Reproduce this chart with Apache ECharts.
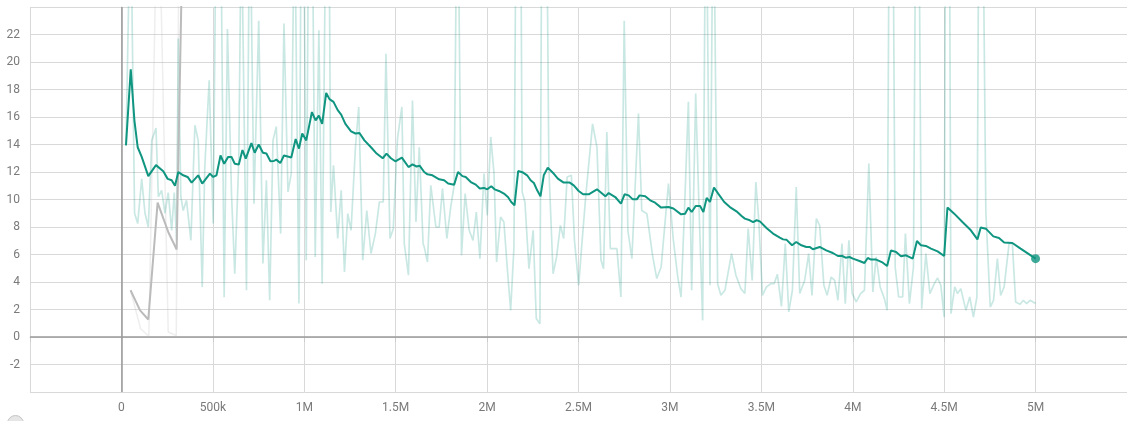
<!DOCTYPE html>
<html>
<head>
<meta charset="utf-8">
<script src="https://cdn.jsdelivr.net/npm/echarts@6/dist/echarts.min.js"></script>
<style>
html,body{margin:0;padding:0;background:#fff;}
#chart{width:1127px;height:421px;}
</style>
</head>
<body>
<div id="chart"></div>
<script>
// [step, value]
const tealSmooth = [
[25000,13.94],[51000,19.47],[71000,15.76],[89000,13.8],[111000,13.1],[147000,11.7],[189000,12.5],[229000,12.05],[253000,11.5],[275000,11.4],[293000,11.0],[311000,12.0],[338000,11.76],[362000,11.64],[384000,11.23],[420000,11.76],[442000,11.16],[484000,11.88],[502000,11.64],[520000,11.76],[542000,13.2],[562000,12.6],[584000,13.1],[602000,13.1],[620000,12.6],[642000,12.55],[662000,13.6],[680000,12.97],[711000,14.1],[729000,13.4],[751000,14.0],[774000,13.4],[793000,13.34],[815000,12.78],[834000,12.8],
[847000,12.9],[869000,12.65],[889000,13.2],[929000,13.05],[953000,14.4],[971000,13.7],[989000,14.8],[1011000,14.3],[1042000,16.36],[1062000,15.76],[1080000,16.1],[1098000,15.5],[1120000,17.75],[1138000,17.3],[1160000,17.1],[1183000,16.5],[1202000,16.17],[1225000,15.5],[1256000,14.96],[1280000,14.8],[1302000,14.84],[1329000,14.3],[1365000,13.8],[1396000,13.34],[1429000,13.0],[1450000,13.34],[1474000,13.0],[1498000,12.78],[1534000,13.05],[1570000,12.36],[1592000,12.56],[1614000,12.4],[1632000,12.45],
[1656000,12.0],[1674000,11.83],[1701000,11.76],[1738000,11.47],[1765000,11.4],[1787000,11.16],[1820000,11.08],[1841000,12.0],[1865000,11.7],[1883000,11.64],[1911000,11.27],[1938000,11.08],[1960000,10.8],[1983000,10.84],[2001000,10.74],[2023000,10.96],[2041000,10.74],[2065000,10.62],[2092000,10.43],[2114000,10.18],[2132000,9.82],[2150000,9.58],[2170000,12.07],[2197000,11.96],[2219000,11.76],[2238000,11.4],[2256000,11.2],[2274000,10.67],[2292000,10.23],[2310000,11.76],[2332000,12.32],[2361000,11.93],[2387000,11.52],[2419000,11.23],[2452000,11.23],[2474000,11.03],[2501000,10.62],[2525000,10.38],
[2556000,10.38],[2601000,10.74],[2647000,10.23],[2665000,10.47],[2701000,10.18],[2732000,9.7],[2752000,10.38],[2774000,10.3],[2797000,10.01],[2819000,10.01],[2834000,10.3],[2865000,10.23],[2892000,9.94],[2919000,9.77],[2952000,9.41],[2992000,9.45],[3019000,9.34],[3061000,8.92],[3083000,8.97],[3101000,9.41],[3119000,9.09],[3141000,9.53],[3165000,9.53],[3183000,9.09],[3201000,10.11],[3219000,9.82],[3241000,10.87],[3264000,10.43],[3297000,9.82],[3328000,9.45],[3364000,9.14],[3392000,8.8],
[3410000,8.61],[3437000,8.49],[3455000,8.36],[3474000,8.49],[3492000,8.41],[3528000,7.93],[3564000,7.52],[3601000,7.23],[3619000,7.1],[3637000,7.08],[3668000,6.67],[3691000,6.91],[3719000,6.67],[3746000,6.55],[3764000,6.55],[3782000,6.38],[3819000,6.55],[3855000,6.3],[3891000,6.11],[3919000,5.89],[3942000,5.89],[3961000,5.77],[3982000,5.82],[4001000,5.7],[4037000,5.53],[4064000,5.38],[4082000,5.75],[4100000,5.63],[4128000,5.63],[4159000,5.45],[4188000,5.16],[4209000,6.3],[4237000,6.18],[4264000,5.87],[4291000,5.94],[4328000,5.7],[4351000,6.98],[4373000,6.67],[4400000,6.62],[4428000,6.43],[4464000,6.23],[4500000,5.89],[4518000,9.41],[4555000,8.97],[4600000,8.36],[4646000,7.76],[4682000,7.1],[4700000,7.96],[4728000,7.88],[4769000,7.32],[4800000,7.2],[4828000,6.87],[4873000,6.84],[4918000,6.43],[5000000,5.7]
];

const tealRaw = [
[25000,13.94],[50000,32],[72000,9.0],[89000,8.25],[111000,11.5],[129000,9.0],[147000,8.0],[166000,14.3],[189000,15.2],[202000,10.2],[220000,10.67],[238000,9.0],[256000,10.5],[275000,7.76],[289000,10.5],[302000,7.03],[311000,21.7],[325000,10.2],[338000,9.2],[356000,9.94],[380000,7.03],[402000,15.4],[420000,14.3],[442000,3.64],[456000,12.36],[480000,18.67],[502000,8.25],[520000,34],[544000,30],[562000,2.9],[580000,22.4],[602000,10.43],[620000,4.6],[642000,12.85],[656000,31],[684000,3.4],[702000,33],[725000,9.7],[751000,23.0],[774000,5.34],[793000,11.4],[811000,2.67],[829000,14.3],[847000,15.3],[871000,7.52],[889000,22.8],[911000,10.55],[929000,11.88],[947000,32],[971000,2.43],[985000,35],[998000,30],[1011000,5.58],[1025000,33],[1044000,31],[1060000,5.82],[1080000,22.3],[1098000,3.88],[1120000,34],[1136000,30],[1145000,9.09],[1160000,12.49],[1183000,7.16],[1202000,10.67],[1220000,4.73],[1238000,8.97],[1256000,7.76],[1280000,13.8],[1298000,16.73],[1320000,5.58],[1342000,9.2],[1365000,6.07],[1389000,7.52],[1411000,9.82],[1432000,9.82],[1447000,20.6],[1469000,7.16],[1487000,7.88],[1510000,14.43],[1534000,16.73],[1547000,6.79],[1570000,4.49],[1592000,17.2],[1611000,8.36],[1629000,13.8],[1650000,6.79],
[1656000,6.55],[1674000,5.45],[1692000,11.03],[1720000,8.0],[1738000,8.0],[1756000,10.8],[1780000,7.16],[1801000,9.45],[1820000,11.03],[1838000,36],[1860000,5.94],[1880000,10.43],[1902000,7.76],[1923000,7.03],[1941000,9.09],[1961000,5.7],[1983000,11.88],[2001000,8.85],[2020000,14.55],[2038000,11.88],[2052000,5.45],[2074000,8.73],[2092000,8.36],[2110000,5.09],[2129000,1.94],[2147000,6.55],[2161000,38],[2183000,34],[2192000,10.55],[2207000,9.82],[2229000,4.97],[2252000,7.76],[2269000,1.34],[2289000,0.97],[2301000,37],[2325000,33],[2338000,12.25],[2361000,4.6],[2380000,5.82],[2401000,8.12],[2419000,7.16],[2438000,11.64],[2461000,11.76],[2478000,7.03],[2501000,3.76],[2520000,7.03],[2540000,10.3],[2577000,15.5],[2601000,13.8],[2623000,5.58],[2637000,4.97],[2655000,14.9],[2674000,6.43],[2710000,6.43],[2732000,2.91],[2750000,23.0],[2770000,7.76],[2792000,5.7],[2828000,16.25],[2846000,9.2],[2874000,8.97],[2905000,5.94],[2928000,4.25],[2952000,5.09],[2992000,11.16],[3019000,7.03],[3043000,4.36],[3061000,2.91],[3079000,8.97],[3101000,17.1],[3119000,3.4],[3141000,17.7],[3159000,9.45],[3179000,1.21],[3197000,36],[3219000,3.76],[3237000,35],[3261000,3.88],[3279000,3.03],[3301000,3.4],[3337000,6.07],[3361000,4.49],[3388000,3.52],[3410000,3.16],[3428000,7.88],[3450000,4.12],[3470000,11.27],[3486000,8.49],[3506000,3.03],[3528000,3.64],[3552000,3.88],[3570000,3.88],[3588000,4.56],[3610000,2.23],[3631000,6.79],[3650000,1.82],[3670000,3.4],[3691000,10.91],[3710000,3.16],[3737000,4.12],[3759000,6.07],[3777000,3.03],[3801000,8.61],[3819000,8.12],[3842000,3.76],[3860000,3.03],[3882000,4.36],[3901000,4.12],[3919000,2.67],[3941000,6.79],[3959000,2.43],[3979000,7.03],[3997000,3.16],[4019000,2.55],[4043000,3.16],[4064000,3.4],[4088000,12.61],[4110000,3.27],[4128000,5.82],[4150000,3.64],[4173000,2.79],[4188000,1.94],[4201000,36],[4219000,34],[4232000,5.09],[4251000,2.91],[4273000,2.91],[4288000,7.52],[4310000,2.43],[4332000,5.09],[4346000,35],[4361000,33],[4377000,2.06],[4400000,6.07],[4422000,3.16],[4446000,3.88],[4464000,4.29],[4482000,3.76],[4500000,1.45],[4509000,38],[4528000,35],[4537000,1.7],[4558000,3.64],[4573000,3.16],[4591000,3.52],[4619000,1.94],[4640000,2.91],[4660000,1.45],[4679000,2.91],[4691000,36],[4710000,34],[4728000,9.09],[4752000,2.18],[4770000,2.67],[4791000,5.7],[4809000,3.03],[4828000,3.64],[4855000,6.79],[4873000,6.79],[4891000,2.55],[4915000,2.38],[4933000,2.67],[4951000,2.43],[4970000,2.67],[5000000,2.43]
];

const graySmooth = [[50000,3.4],[102000,1.94],[147000,1.27],[198000,9.77],[256000,7.64],[302000,6.36],[350000,40]];
const grayRaw = [[50000,3.4],[105000,0.6],[150000,0.05],[200000,35],[256000,0.36],[300000,0.1],[350000,100]];

const xTickLabels = {0:'0',500000:'500k',1000000:'1M',1500000:'1.5M',2000000:'2M',2500000:'2.5M',3000000:'3M',3500000:'3.5M',4000000:'4M',4500000:'4.5M',5000000:'5M'};
const yTickLabels = [-2,0,2,4,6,8,10,12,14,16,18,20,22];

const teal = '#0f9580';
const chart = echarts.init(document.getElementById('chart'), null, {renderer:'canvas'});
chart.setOption({
  animation:false,
  backgroundColor:'#fff',
  grid:{left:30, top:7, width:1100, height:385, containLabel:false},
  xAxis:{
    type:'value', min:-500000, max:5500000, interval:500000,
    axisLine:{show:true, lineStyle:{color:'#d6d6d6', width:1}},
    axisTick:{show:true, length:5, lineStyle:{color:'#cccccc'}},
    splitLine:{show:true, lineStyle:{color:'#d9d9d9', width:1}},
    axisLabel:{margin:10, color:'#7a7a7a', fontSize:12, fontFamily:'Roboto',
      showMaxLabel:false,
      formatter:function(v){ return xTickLabels[v] !== undefined ? xTickLabels[v] : ''; }}
  },
  yAxis:{
    type:'value', min:-4, max:24, interval:2,
    axisLine:{show:true, lineStyle:{color:'#cccccc', width:1}},
    axisTick:{show:false},
    splitLine:{show:true, lineStyle:{color:'#d9d9d9', width:1}},
    axisLabel:{margin:10, color:'#7a7a7a', fontSize:12, fontFamily:'Roboto',
      formatter:function(v){ return yTickLabels.indexOf(v) >= 0 ? String(v) : ''; }}
  },
  graphic:[{type:'circle', left:7, top:415, shape:{r:8}, style:{fill:'#e6e6e6', stroke:'#c4c4c4', lineWidth:1}, silent:true}],
  series:[
    {type:'line', data:grayRaw, showSymbol:false, symbol:'none', clip:true, silent:true,
      lineStyle:{color:'#bdbdbd', width:1.5, opacity:0.25}, z:1,
      markLine:{silent:true, symbol:'none', label:{show:false},
        lineStyle:{color:'#9a9a9a', width:1.5, type:'solid'},
        data:[{yAxis:0},{xAxis:0}]}},
    {type:'line', data:tealRaw, showSymbol:false, symbol:'none', clip:true, silent:true,
      lineStyle:{color:teal, width:1.7, opacity:0.22}, z:2},
    {type:'line', data:graySmooth, showSymbol:false, symbol:'none', clip:true, silent:true,
      lineStyle:{color:'#bbbbbb', width:2}, z:3},
    {type:'line', data:tealSmooth, showSymbol:false, symbol:'none', clip:true, silent:true,
      lineStyle:{color:teal, width:2}, z:4},
    {type:'scatter', data:[tealSmooth[tealSmooth.length-1]], symbol:'circle', symbolSize:9, silent:true,
      itemStyle:{color:teal}, z:5}
  ]
});
</script>
</body>
</html>
